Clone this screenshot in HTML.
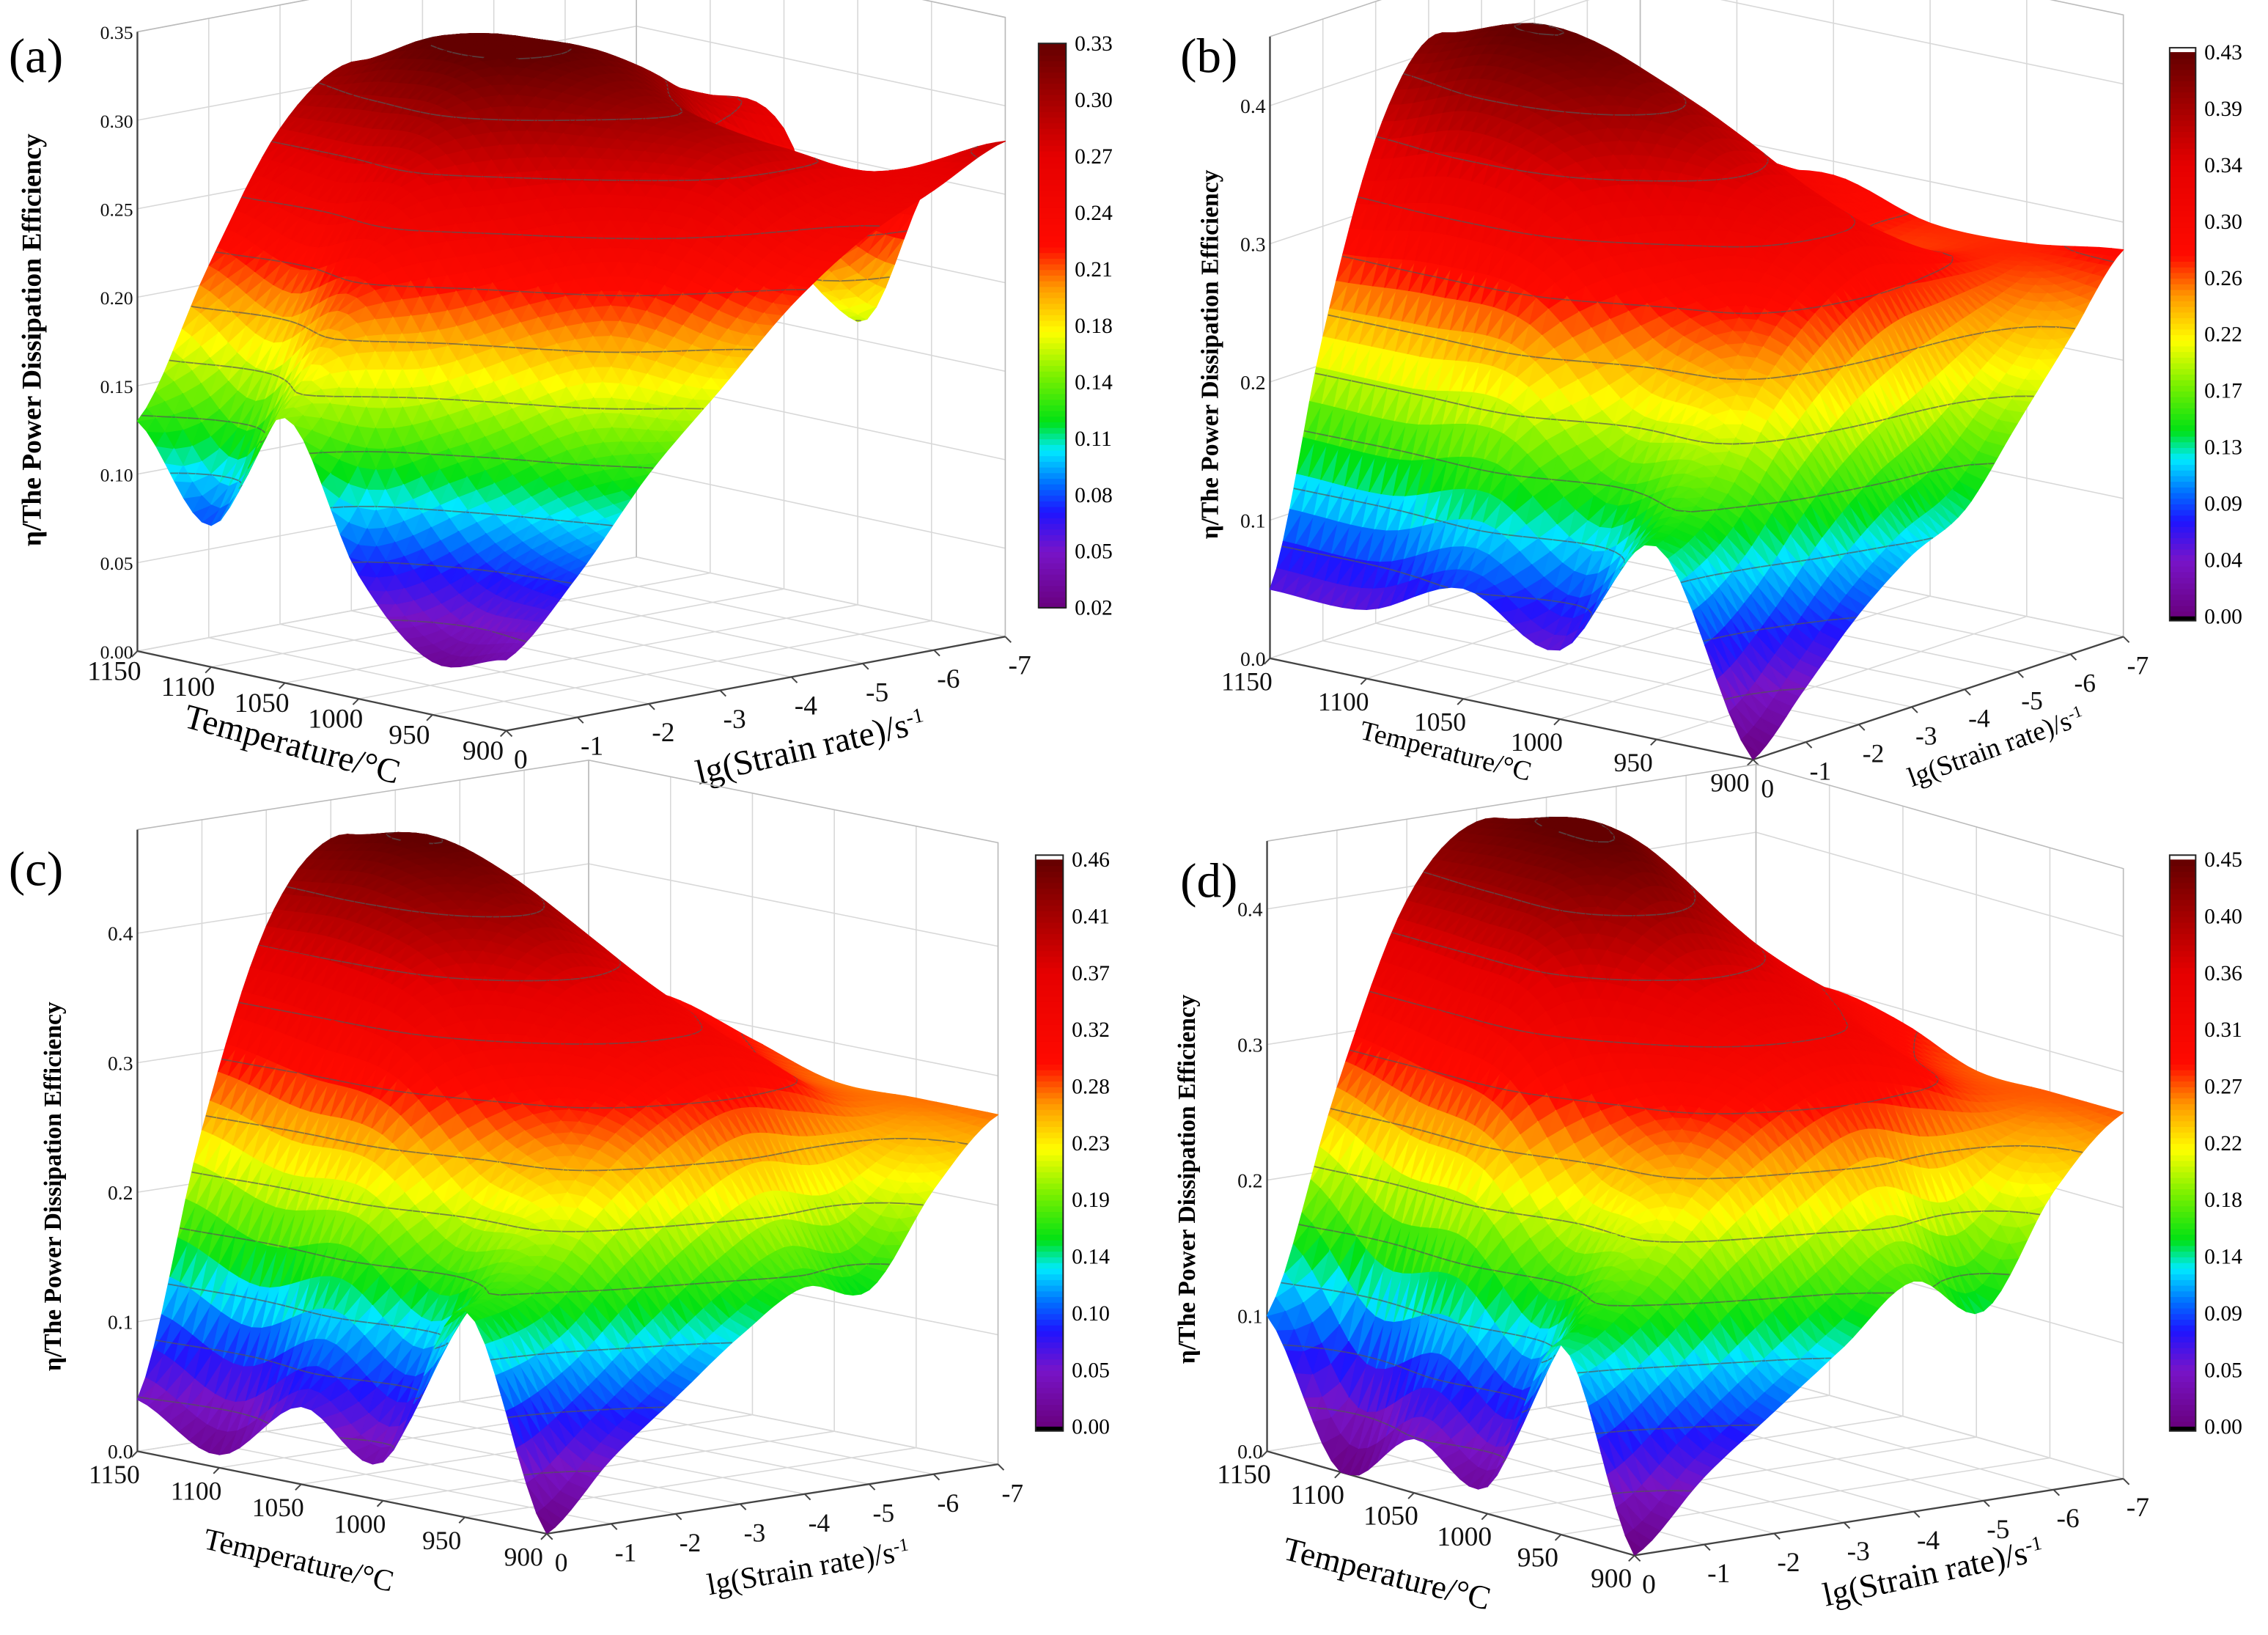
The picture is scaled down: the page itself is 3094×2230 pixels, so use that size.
<!DOCTYPE html>
<html><head><meta charset="utf-8"><style>
html,body{margin:0;padding:0;background:#fff;}
svg{display:block;font-family:"Liberation Serif","DejaVu Serif",serif;}
</style></head><body>
<svg id="fig" width="3094" height="2230" viewBox="0 0 1568 1130" preserveAspectRatio="none" xmlns="http://www.w3.org/2000/svg"></svg>
<script>
// ===== data (rows: temperature, cols: lg strain rate) =====
const temps = [1150, 1100, 1050, 1000, 950, 900];
const strains = [0, -1, -2, -3, -4, -5, -6, -7];
const etaA = [
 [0.13,0.21,0.28,0.31,0.29,0.26,0.25,0.25],
 [0.08,0.19,0.28,0.33,0.32,0.29,0.28,0.27],
 [0.15,0.21,0.28,0.33,0.33,0.31,0.28,0.26],
 [0.07,0.15,0.23,0.29,0.31,0.28,0.21,0.16],
 [0.03,0.10,0.18,0.24,0.28,0.28,0.26,0.25],
 [0.04,0.08,0.13,0.17,0.21,0.24,0.26,0.28]];
const etaB = [
 [0.05,0.22,0.35,0.41,0.39,0.34,0.31,0.28],
 [0.05,0.22,0.37,0.43,0.41,0.35,0.30,0.28],
 [0.08,0.22,0.35,0.41,0.39,0.34,0.31,0.29],
 [0.05,0.16,0.28,0.35,0.35,0.31,0.27,0.27],
 [0.14,0.17,0.23,0.27,0.29,0.28,0.27,0.27],
 [0.00,0.04,0.08,0.11,0.13,0.18,0.23,0.28]];
const etaC = [
 [0.04,0.24,0.39,0.45,0.43,0.37,0.34,0.31],
 [0.01,0.22,0.39,0.46,0.44,0.38,0.34,0.31],
 [0.06,0.22,0.37,0.43,0.41,0.36,0.32,0.29],
 [0.03,0.17,0.30,0.36,0.36,0.33,0.29,0.27],
 [0.16,0.18,0.24,0.28,0.30,0.29,0.27,0.27],
 [0.00,0.05,0.09,0.13,0.16,0.15,0.22,0.27]];
const etaD = [
 [0.10,0.26,0.39,0.44,0.42,0.36,0.32,0.29],
 [0.00,0.24,0.39,0.45,0.44,0.38,0.33,0.30],
 [0.04,0.23,0.38,0.44,0.41,0.36,0.32,0.29],
 [0.02,0.17,0.30,0.36,0.36,0.33,0.29,0.27],
 [0.14,0.18,0.24,0.28,0.30,0.29,0.27,0.27],
 [0.00,0.05,0.09,0.13,0.17,0.14,0.22,0.27]];
const zTicksA = ["0.00","0.05","0.10","0.15","0.20","0.25","0.30","0.35"];
const zTicksB = ["0.0","0.1","0.2","0.3","0.4"];
const cbarA = ["0.33","0.30","0.27","0.24","0.21","0.18","0.14","0.11","0.08","0.05","0.02"];
const cbarB = ["0.43","0.39","0.34","0.30","0.26","0.22","0.17","0.13","0.09","0.04","0.00"];
const cbarC = ["0.46","0.41","0.37","0.32","0.28","0.23","0.19","0.14","0.10","0.05","0.00"];
const cbarD = ["0.45","0.40","0.36","0.31","0.27","0.22","0.18","0.14","0.09","0.05","0.00"];
const tTickLabels = ["1150","1100","1050","1000","950","900"];
const sTickLabels = ["0","-1","-2","-3","-4","-5","-6","-7"];

const NS="http://www.w3.org/2000/svg";
const svg=document.getElementById('fig');
function mk(tag,attrs,parent){const e=document.createElementNS(NS,tag);for(const k in attrs)e.setAttribute(k,attrs[k]);(parent||svg).appendChild(e);return e;}

const stops=[[0,[105,0,125]],[0.1,[120,20,200]],[0.17,[30,20,255]],[0.22,[0,110,255]],[0.28,[0,235,255]],[0.33,[0,225,20]],[0.41,[120,240,0]],[0.49,[255,255,0]],[0.57,[255,150,0]],[0.64,[255,10,0]],[0.8,[230,0,0]],[1,[100,0,0]]];
function cmap(v){v=Math.max(0,Math.min(1,v));for(let i=1;i<stops.length;i++){if(v<=stops[i][0]){const a=stops[i-1],b=stops[i];const f=(v-a[0])/(b[0]-a[0]);const c=a[1].map((x,j)=>Math.round(x+(b[1][j]-x)*f));return `rgb(${c[0]},${c[1]},${c[2]})`;}}return 'rgb(100,0,0)';}
function cr(p0,p1,p2,p3,t){return 0.5*((2*p1)+(-p0+p2)*t+(2*p0-5*p1+4*p2-p3)*t*t+(-p0+3*p1-3*p2+p3)*t*t*t);}
function sample(g,r,c){
 const R=g.length,C=g[0].length;const gi=(i,j)=>g[Math.max(0,Math.min(R-1,i))][Math.max(0,Math.min(C-1,j))];
 const i=Math.min(R-2,Math.floor(r)),j=Math.min(C-2,Math.floor(c));const tr=r-i,tc=c-j;
 const rowv=[];for(let k=-1;k<=2;k++){rowv.push(cr(gi(i+k,j-1),gi(i+k,j),gi(i+k,j+1),gi(i+k,j+2),tc));}
 return Math.max(0,cr(rowv[0],rowv[1],rowv[2],rowv[3],tr));}

function panel(cfg){
 const g=mk('g',{});
 
 
 const P=(T,s,z)=>{const tn=(T-900)/250,sn=-s/7;return [cfg.O[0]+tn*cfg.A[0]+sn*cfg.B[0],cfg.O[1]+tn*cfg.A[1]+sn*cfg.B[1]-z*cfg.C];};
 const pts=a=>a.map(p=>p[0].toFixed(1)+','+p[1].toFixed(1)).join(' ');
 const grid=mk('g',{stroke:'#d8d8d8','stroke-width':0.8,fill:'none'},g);
 
 const zt=cfg.zticks.map(Number);
 temps.forEach(T=>{mk('polyline',{points:pts([P(T,0,0),P(T,-7,0),P(T,-7,cfg.zmax)])},grid);});
 strains.forEach(s=>{mk('polyline',{points:pts([P(900,s,0),P(1150,s,0),P(1150,s,cfg.zmax)])},grid);});
 zt.forEach(z=>{mk('polyline',{points:pts([P(1150,0,z),P(1150,-7,z),P(900,-7,z)])},grid);});
 mk('polyline',{points:pts([P(1150,0,cfg.zmax),P(1150,-7,cfg.zmax),P(900,-7,cfg.zmax),P(900,-7,0)]),stroke:'#bbb'},grid);
 mk('line',{x1:P(1150,-7,0)[0],y1:P(1150,-7,0)[1],x2:P(1150,-7,cfg.zmax)[0],y2:P(1150,-7,cfg.zmax)[1],stroke:'#bbb'},grid);
 const ax=mk('g',{stroke:'#444','stroke-width':1.2,fill:'none'},g);
 
 mk('polyline',{points:pts([P(1150,0,cfg.zmax),P(1150,0,0),P(900,0,0),P(900,-7,0)])},ax);
 const surf=mk('g',{},g);
 
 const R=temps.length,Cn=strains.length,sub=8;
 const NR=(R-1)*sub,NC=(Cn-1)*sub;
 const Z=[];for(let i=0;i<=NR;i++){Z.push([]);for(let j=0;j<=NC;j++)Z[i].push(sample(cfg.eta,i/sub,j/sub));}
 const Tof=i=>temps[0]+(temps[R-1]-temps[0])*i/NR, Sof=j=>strains[0]+(strains[Cn-1]-strains[0])*j/NC;
 const quads=[];
 for(let i=0;i<NR;i++)for(let j=0;j<NC;j++){const tn=(Tof(i+0.5)-900)/250,sn=-Sof(j+0.5)/7;quads.push([i,j,tn+sn]);}
 quads.sort((a,b)=>b[2]-a[2]);
 const levels=[];for(let k=1;k<12;k++)levels.push(cfg.cmin+(cfg.cmax-cfg.cmin)*k/11);
 const norm=v=>(v-cfg.cmin)/(cfg.cmax-cfg.cmin);
 quads.forEach(([i,j])=>{
  const c=[[i,j],[i+1,j],[i+1,j+1],[i,j+1]];
  const z=c.map(([a,b])=>Z[a][b]);const pp=c.map(([a,b],k)=>P(Tof(a),Sof(b),z[k]));
  const c1=cmap(norm((z[0]+z[1]+z[2])/3)),c2=cmap(norm((z[0]+z[2]+z[3])/3));
  mk('polygon',{points:pts([pp[0],pp[1],pp[2]]),fill:c1,stroke:c1,'stroke-width':0.6,'stroke-linejoin':'round'},surf);
  mk('polygon',{points:pts([pp[0],pp[2],pp[3]]),fill:c2,stroke:c2,'stroke-width':0.6,'stroke-linejoin':'round'},surf);
  levels.forEach(L=>{const cross=[];for(let k=0;k<4;k++){const a=z[k],b=z[(k+1)%4];if((a-L)*(b-L)<0){const f=(L-a)/(b-a);cross.push([pp[k][0]+(pp[(k+1)%4][0]-pp[k][0])*f,pp[k][1]+(pp[(k+1)%4][1]-pp[k][1])*f]);}}
   if(cross.length>=2)mk('line',{x1:cross[0][0],y1:cross[0][1],x2:cross[1][0],y2:cross[1][1],stroke:'#555','stroke-width':0.9,'stroke-opacity':0.7},surf);});
 });
 const lab=mk('g',{fill:'#111'},g);
 cfg.zticks.forEach(t=>{const p=P(1150,0,Number(t));const e=mk('text',{x:p[0]-3,y:p[1]+5,'text-anchor':'end','font-size':cfg.fz},lab);e.textContent=t;});
 temps.forEach((T,k)=>{const p=P(T,0,0);const e=mk('text',{x:p[0]-16,y:p[1]+cfg.tdy,'text-anchor':'middle','font-size':cfg.ft},lab);e.textContent=tTickLabels[k];
  mk('line',{x1:p[0],y1:p[1],x2:p[0]-4,y2:p[1]+4,stroke:'#444'},lab);});
 strains.forEach((s,k)=>{const p=P(900,s,0);const e=mk('text',{x:p[0]+10,y:p[1]+cfg.sdy,'text-anchor':'middle','font-size':cfg.ft},lab);e.textContent=sTickLabels[k];
  mk('line',{x1:p[0],y1:p[1],x2:p[0]+4,y2:p[1]+4,stroke:'#444'},lab);});
 let e=mk('text',{x:0,y:0,transform:`translate(${cfg.zt[0]},${cfg.zt[1]}) rotate(-90)`,'text-anchor':'middle','font-size':cfg.zfs,'font-weight':'bold'},g);
 e.textContent='η/The Power Dissipation Efficiency';
 e=mk('text',{x:0,y:0,transform:`translate(${cfg.tt[0]},${cfg.tt[1]}) rotate(${cfg.tt[2]})`,'text-anchor':'middle','font-size':cfg.tfs},g);
 e.textContent='Temperature/°C';
 e=mk('text',{x:0,y:0,transform:`translate(${cfg.st[0]},${cfg.st[1]}) rotate(${cfg.st[2]})`,'text-anchor':'middle','font-size':cfg.tfs},g);
 
 e.appendChild(document.createTextNode('lg(Strain rate)/s'));const ts=mk('tspan',{'baseline-shift':'super','font-size':cfg.tfs*0.6},e);ts.textContent='-1';
 const cb=cfg.cb;const cbg=mk('g',{},g);
 const n=100;for(let k=0;k<n;k++){const y=cb.y1-(cb.y1-cb.y0)*(k+1)/n;mk('rect',{x:cb.x,y:y,width:cb.w,height:(cb.y1-cb.y0)/n+0.6,fill:cmap((k+0.5)/n)},cbg);}
 if(cfg.cap){mk('rect',{x:cb.x,y:cb.y0-3,width:cb.w,height:3,fill:'#fff'},cbg);mk('rect',{x:cb.x,y:cb.y1,width:cb.w,height:3,fill:'#000'},cbg);}
 mk('rect',{x:cb.x,y:cb.y0-(cfg.cap?3:0),width:cb.w,height:cb.y1-cb.y0+(cfg.cap?6:0),fill:'none',stroke:'#222','stroke-width':1},cbg);
 cfg.cbl.forEach((t,k)=>{const y=cb.y0+(cb.y1-cb.y0)*k/(cfg.cbl.length-1);const e=mk('text',{x:cb.x+cb.w+6,y:y+5,'font-size':15},cbg);e.textContent=t;});
 e=mk('text',{x:cfg.lab[0],y:cfg.lab[1],'font-size':34},g);e.textContent=cfg.letter;
}

panel({name:'panel-a',letter:'(a)',lab:[6,50],eta:etaA,O:[350,505],A:[-255,-55],B:[345,-65],C:1223,zmax:0.35,zticks:zTicksA,cmin:0.02,cmax:0.33,
 fz:13,ft:19,tdy:20,sdy:26,zt:[28,235],zfs:19,tt:[200,522,15],st:[562,524,-13],tfs:24,cb:{x:718,y0:30,y1:420,w:19},cbl:cbarA,cap:false});
panel({name:'panel-b',letter:'(b)',lab:[816,50],eta:etaB,O:[1212,525],A:[-334,-70],B:[256,-85],C:955,zmax:0.45,zticks:zTicksB,cmin:0,cmax:0.43,
 fz:14,ft:18,tdy:22,sdy:26,zt:[842,245],zfs:17,tt:[998,525,14],st:[1382,522,-20],tfs:19,cb:{x:1500,y0:36,y1:426,w:18},cbl:cbarB,cap:true});
panel({name:'panel-c',letter:'(c)',lab:[6,612],eta:etaC,O:[378,1060],A:[-283,-57],B:[312,-48],C:895,zmax:0.48,zticks:zTicksB,cmin:0,cmax:0.46,
 fz:14,ft:18,tdy:22,sdy:26,zt:[42,820],zfs:17,tt:[205,1085,13],st:[560,1090,-10],tfs:21,cb:{x:716,y0:594,y1:986,w:19},cbl:cbarC,cap:true});
panel({name:'panel-d',letter:'(d)',lab:[816,620],eta:etaD,O:[1130,1075],A:[-254,-72],B:[338,-53],C:937,zmax:0.45,zticks:zTicksB,cmin:0,cmax:0.45,
 fz:14,ft:19,tdy:22,sdy:26,zt:[826,815],zfs:17,tt:[957,1095,14],st:[1338,1094,-12],tfs:23,cb:{x:1500,y0:594,y1:986,w:18},cbl:cbarD,cap:true});
</script>
</body></html>
